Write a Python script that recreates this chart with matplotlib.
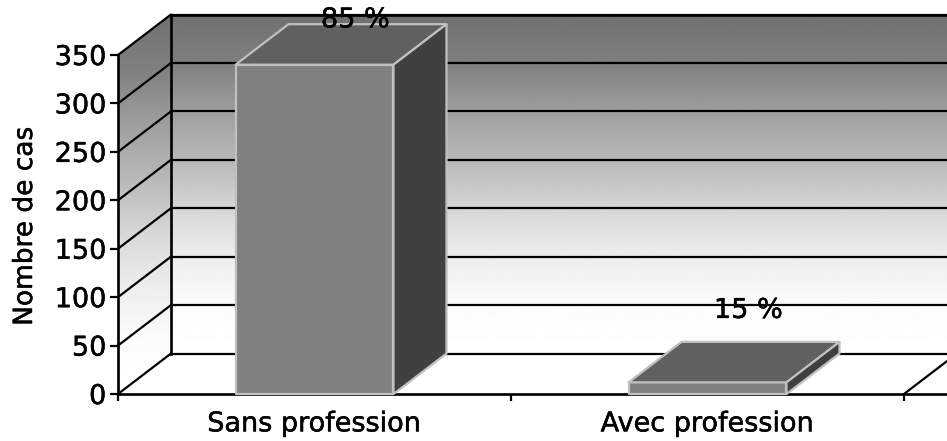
import numpy as np
import matplotlib
matplotlib.use("Agg")
import matplotlib.pyplot as plt
import matplotlib.patheffects as pe
from matplotlib.patches import Polygon

categories = ["Sans profession", "Avec profession"]
cases = [340, 12]
percent_labels = ["85 %", "15 %"]
y_ticks = [0, 50, 100, 150, 200, 250, 300, 350]

W, H = 947, 441
fig = plt.figure(figsize=(W / 100, H / 100), dpi=100, facecolor="white")
ax = fig.add_axes([118 / W, (H - 394) / H, 786 / W, 339 / H])

# Oblique projection: depth offset of the back plane, in data units
DX = 53 / 786 * 2
DY = 40.5 / 339 * 350
BAR_W = 0.402
LW = 1.6
INK = "black"
TEXT_SIZE = 19.5
LABEL_LIFT = [4, 32]
heavier = [pe.withStroke(linewidth=0.35, foreground=INK)]

# Grey ramp of the walls, dark at the top and white at the floor
stops_v = np.array([0, 50, 100, 150, 200, 250, 300, 350])
stops_g = np.array([1.00, 0.985, 0.93, 0.84, 0.72, 0.62, 0.50, 0.44])
ramp = np.interp(np.linspace(350, 0, 256), stops_v, stops_g).reshape(-1, 1)

# Back wall, running out past the right edge of the figure
ax.imshow(ramp, cmap="gray", vmin=0, vmax=1, aspect="auto",
          extent=(DX, 2 + DX, DY, 350 + DY), zorder=1, clip_on=False,
          interpolation="bilinear")

# Left wall: the ramp stays horizontal, clipped to the wall's parallelogram
side = ax.imshow(ramp, cmap="gray", vmin=0, vmax=1, aspect="auto",
                 extent=(0, DX, 0, 350 + DY), zorder=1,
                 interpolation="bilinear")
side_outline = Polygon([(0, 0), (DX, DY), (DX, 350 + DY), (0, 350)], closed=True,
                       transform=ax.transData, facecolor="none", edgecolor="none",
                       clip_on=False)
ax.add_patch(side_outline)
side.set_clip_box(fig.bbox)
side.set_clip_path(side_outline)

ax.set_xlim(0, len(categories))
ax.set_ylim(0, 350)
ax.patch.set_visible(False)
for s in ax.spines.values():
    s.set_visible(False)

# Grid lines on both walls
far = 2.2
for v in y_ticks:
    ax.plot([0, DX], [v, v + DY], color=INK, lw=LW, zorder=2, clip_on=False,
            solid_capstyle="round")
    ax.plot([DX, far], [v + DY, v + DY], color=INK, lw=LW, zorder=2, clip_on=False,
            solid_capstyle="butt")

ax.plot([DX, DX], [DY, 350 + DY], color=INK, lw=LW * 1.2, zorder=2, clip_on=False)
ax.plot([0, 0], [0, 350], color=INK, lw=LW * 1.2, zorder=2, clip_on=False)
ax.plot([DX, far], [350 + DY, 350 + DY], color=INK, lw=LW * 1.2, zorder=2, clip_on=False)
ax.plot([0, far], [0, 0], color=INK, lw=LW * 1.2, zorder=2, clip_on=False)
ax.plot([2, 2 + DX], [0, DY], color=INK, lw=LW, zorder=2, clip_on=False)

# Three visible faces of every bar
edge = "#c0c0c0"
for i, (value, label, lift) in enumerate(zip(cases, percent_labels, LABEL_LIFT)):
    x0 = i + 0.5 - BAR_W / 2
    x1 = i + 0.5 + BAR_W / 2
    faces = [
        ([(x0, 0), (x1, 0), (x1, value), (x0, value)], "#808080"),
        ([(x0, value), (x1, value), (x1 + DX, value + DY), (x0 + DX, value + DY)], "#606060"),
        ([(x1, 0), (x1 + DX, DY), (x1 + DX, value + DY), (x1, value)], "#404040"),
    ]
    for verts, colour in faces:
        ax.add_patch(Polygon(verts, closed=True, facecolor=colour, edgecolor=edge,
                             lw=LW, joinstyle="round", zorder=3, clip_on=False))
    ax.text(i + 0.5 + DX * 0.77, value + DY + lift, label, ha="center", va="center",
            fontsize=TEXT_SIZE, color=INK, zorder=4, clip_on=False, path_effects=heavier)

ax.set_yticks(y_ticks)
ax.set_xticks(range(len(categories) + 1))
ax.set_xticklabels([])
ax.set_xticks([i + 0.5 for i in range(len(categories))], minor=True)
ax.set_xticklabels(categories, minor=True)
ax.tick_params(axis="x", which="major", length=5, width=LW, color=INK)
ax.tick_params(axis="x", which="minor", length=0, labelsize=TEXT_SIZE, pad=12.5, labelcolor=INK)
ax.tick_params(axis="y", length=5.5, width=LW, color=INK, labelsize=TEXT_SIZE, pad=3, labelcolor=INK)
for t in ax.get_xticklabels(minor=True) + ax.get_yticklabels():
    t.set_path_effects(heavier)
ax.set_ylabel("Nombre de cas", fontsize=19, color=INK, path_effects=heavier)
ax.yaxis.set_label_coords(-80 / 786, 0.495)

fig.savefig("out.png", dpi=100)
